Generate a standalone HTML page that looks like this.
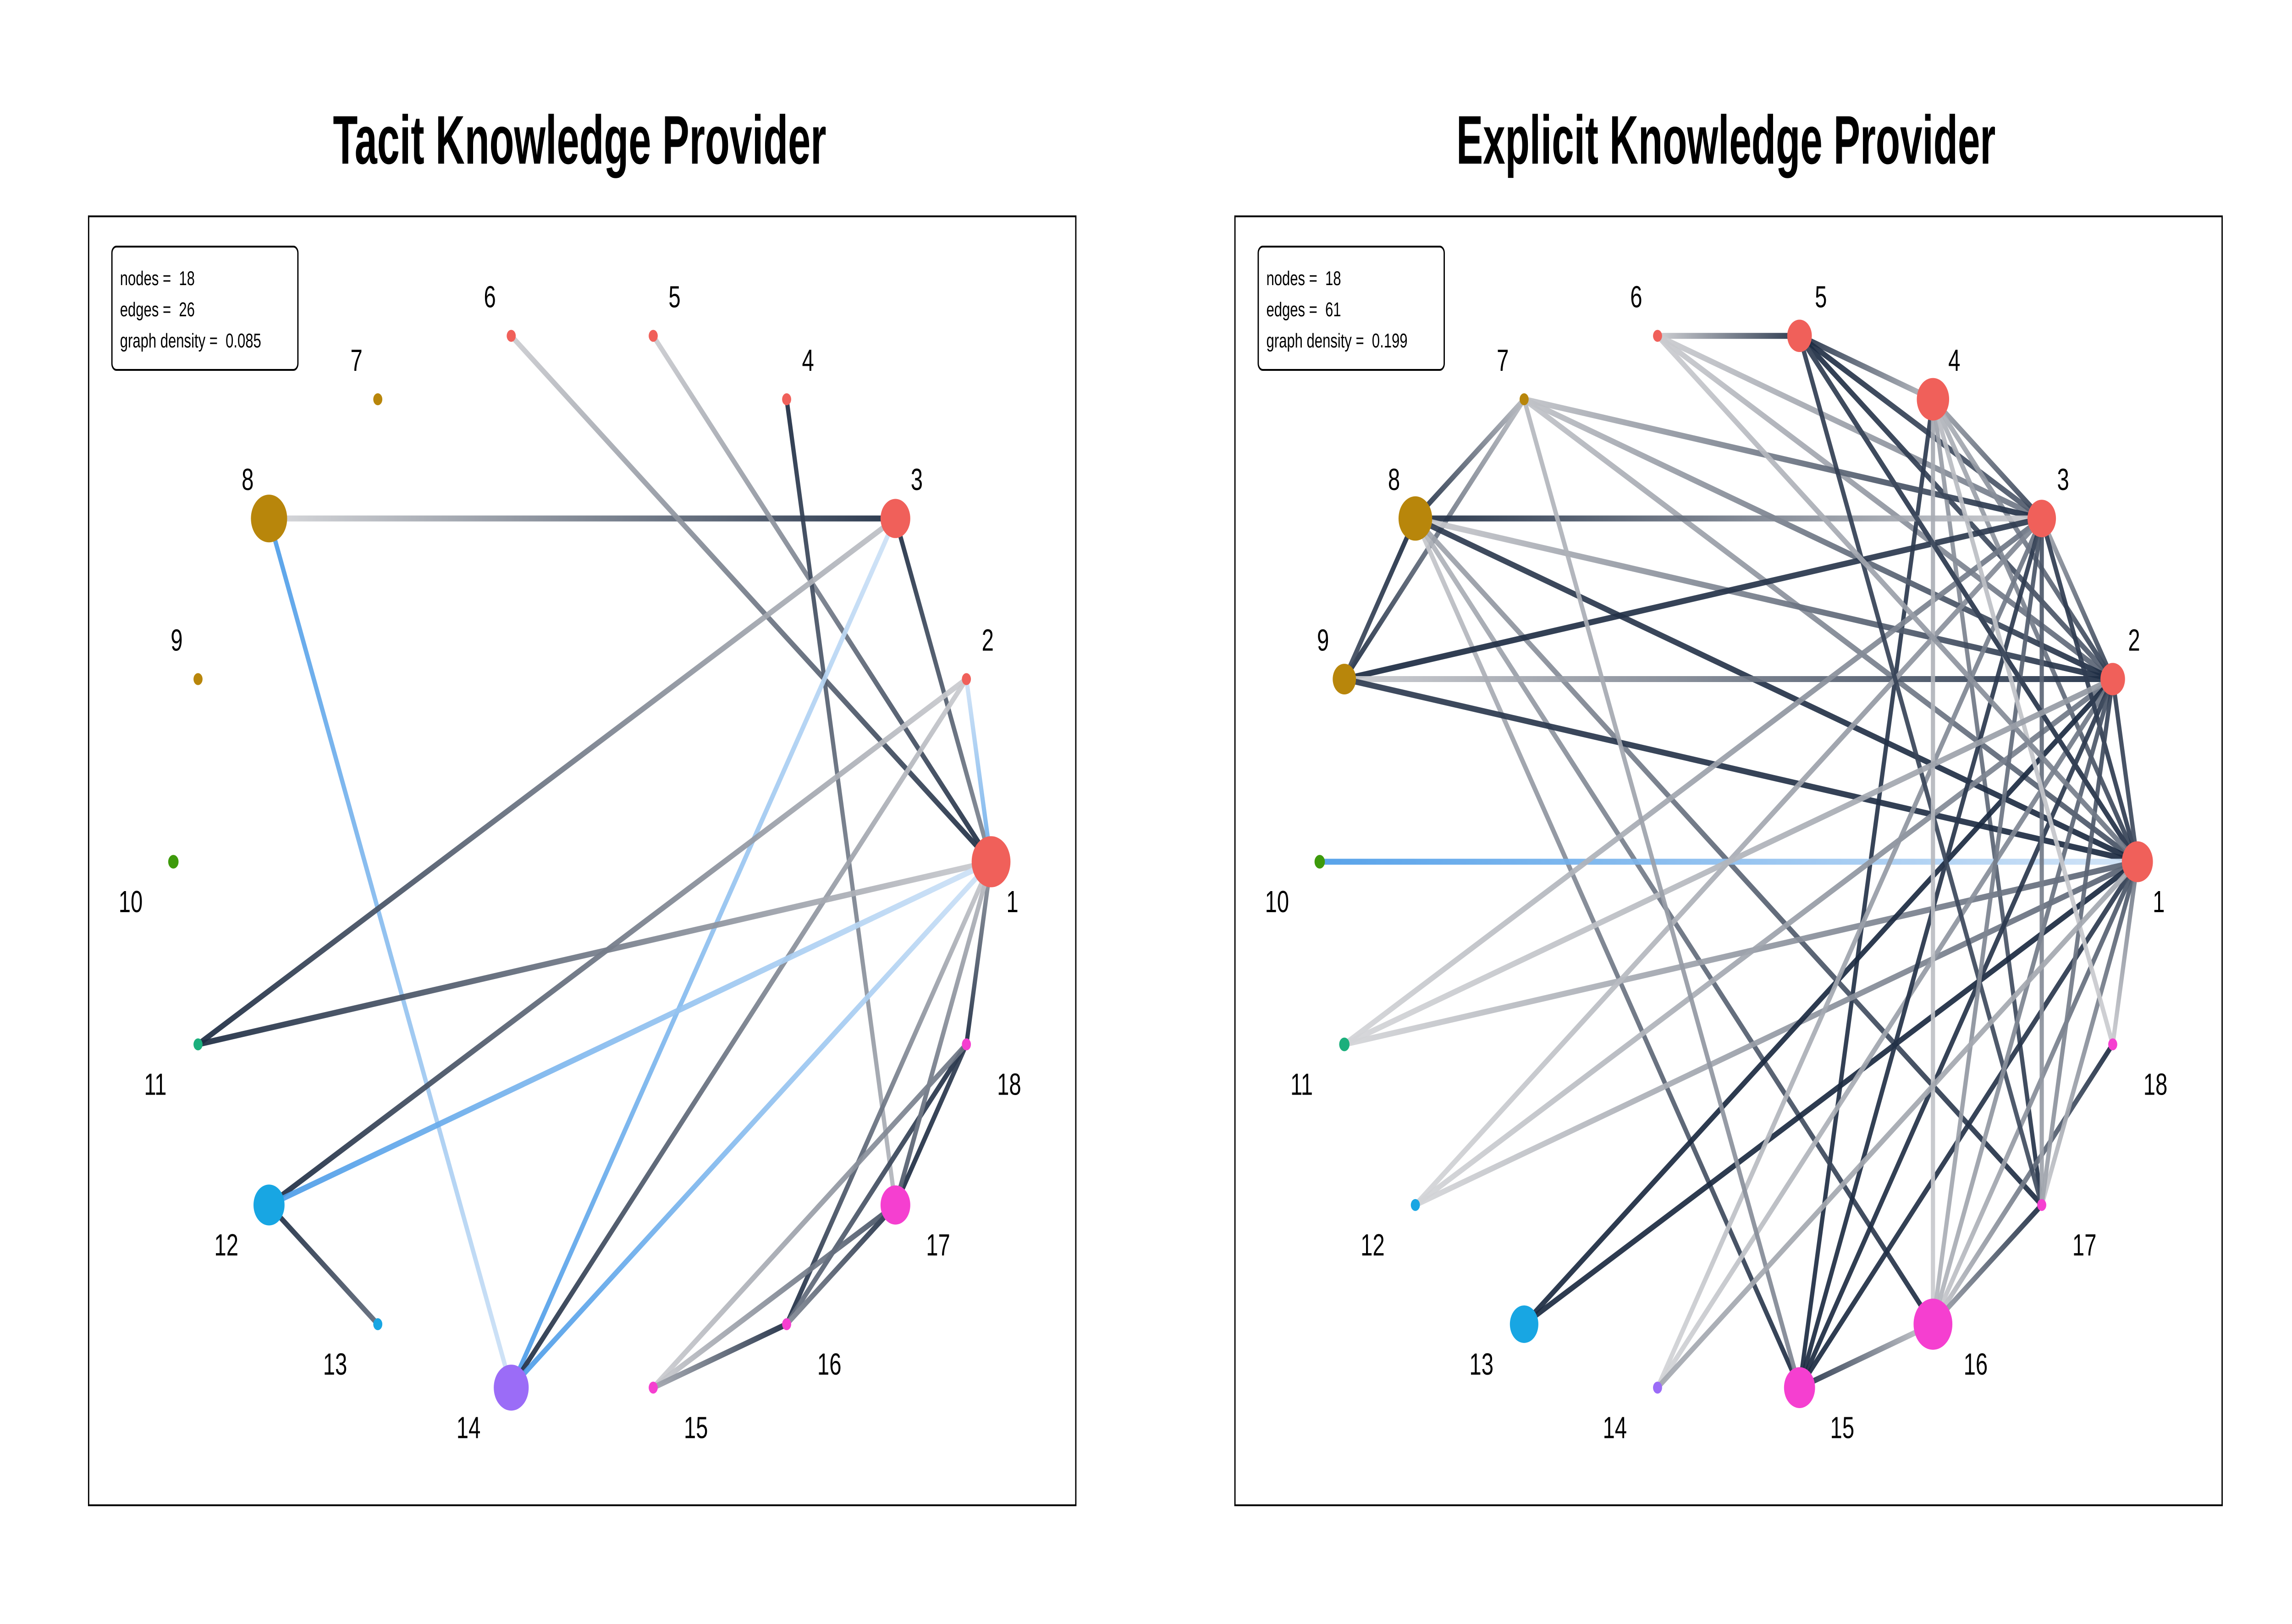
<!DOCTYPE html>
<html><head><meta charset="utf-8"><style>
html,body{margin:0;padding:0;background:#fff;width:100%;height:100%;overflow:hidden;}
svg{display:block;font-family:"Liberation Sans",Arial,sans-serif;width:100vw;height:100vh;}
</style></head><body>
<svg id="chart" viewBox="0 0 7086 3543" preserveAspectRatio="none" xmlns="http://www.w3.org/2000/svg">
<rect x="0" y="0" width="7086" height="3543" fill="#fff"/>
<defs id="defs"></defs>
</svg>
<script>
// ---------- data ----------
const nodeIds = [1,2,3,4,5,6,7,8,9,10,11,12,13,14,15,16,17,18];
const nodeGroups = ['r','r','r','r','r','r','o','o','o','g','t','b','b','p','m','m','m','m'];
const tacitSizes    = [60,14,46,14,14,14,14,56,14,16,14,48,14,54,14,14,46,14];
const explicitSizes = [48,38,44,50,38,14,14,52,36,16,16,14,44,14,48,60,14,14];
const tacitTitle = "Tacit Knowledge Provider";
const explicitTitle = "Explicit Knowledge Provider";
const tacitStats = ["nodes =  18","edges =  26","graph density =  0.085"];
const explicitStats = ["nodes =  18","edges =  61","graph density =  0.199"];

// tacit edges
const tFrom  = [8,8,6,5,4,3,3,3,2,2,2,1,1,1,1,1,1,12,18,18,17,15,15,15,1,16];
const tTo    = [3,14,1,1,17,1,11,14,1,12,14,11,12,14,18,17,16,13,16,17,16,18,17,16,17,17];
const tShadeA= [0.05,1,0.1,0.1,1,1,0.15,0.1,0.1,0.1,0.1,0.1,0.1,0.1,0.4,0.1,0.1,1,1,0.9,1,0.1,0.1,0.3,0.15,0.4];
const tShadeB= [1,0.1,1,1,0.2,0.45,1,1,0.8,1,1,1,1,1,1,0.8,1,0.65,0.6,1,0.7,0.6,0.8,1,0.7,0.9];
const tBlue  = [0,1,0,0,0,0,0,1,1,0,0,0,1,1,0,0,0,0,0,0,0,0,0,0,0,0];

// explicit edges
const eFrom  = [6,6,6,4,3,2,1,4,4,4,4,4,7,7,7,7,7,9,3,8,8,8,8,8,3,9,9,10,11,11,12,12,12,13,13,14,14,15,15,15,16,16,16,16,17,18,3,3,2,5,4,3,2,2,3,4,5,6,11,7,1];
const eTo    = [5,3,2,5,5,5,5,3,2,1,17,15,8,9,3,2,1,8,8,2,1,15,16,17,9,2,1,1,3,1,3,2,1,2,1,3,2,3,2,1,15,1,18,17,1,1,2,1,1,17,16,16,16,17,17,18,1,1,2,15,14];
const eShadeA= [0.1,0.1,0.1,0.2,0.7,0.7,0.7,0.3,0.2,0.2,0.3,0.9,0.2,0.2,0.15,0.15,0.15,0.8,0.1,0.1,0.9,0.1,0.2,0.3,0.9,0.1,0.9,1,0.05,0.05,0.05,0.05,0.05,1,1,0.05,0.05,1,1,1,0.1,0.1,0.1,0.3,0.1,0.1,0.3,0.9,0.9,0.9,0.3,0.8,0.8,0.9,0.8,0.2,0.8,0.1,0.05,0.2,0.3];
const eShadeB= [1,0.6,0.7,1,1,1,1,0.9,0.9,0.9,1,1,1,1,1,1,0.8,1,1,1,1,1,1,1,1,1,1,0.1,0.6,0.7,0.5,0.6,0.7,1,1,0.6,0.6,0.9,0.9,0.9,1,0.8,1,1,0.8,0.6,0.9,0.9,0.8,0.8,0.1,0.2,0.2,0.3,0.3,0.1,0.9,0.6,0.4,0.5,0.3];
const eBlue  = eFrom.map((v,i)=> (v===10 && eTo[i]===1) ? 1 : 0);

// ---------- rendering ----------
const NS = "http://www.w3.org/2000/svg";
const svg = document.getElementById('chart');
const defs = document.getElementById('defs');
const groupColor = {r:'#F0605A',o:'#B8860B',g:'#3D9A0B',t:'#1BAF7C',b:'#18A6E3',p:'#9B6CF7',m:'#F53FD0'};
const DARK=[27,42,65], LIGHT=[222,222,224], BDARK=[74,155,232], BLIGHT=[222,234,248];
function mix(a,b,t){return 'rgb('+a.map((v,i)=>Math.round(v+(b[i]-v)*t)).join(',')+')';}
function mk(tag, attrs){const e=document.createElementNS(NS,tag);for(const k in attrs)e.setAttribute(k,attrs[k]);return e;}
let gid=0;

function panel(offX, title, stats, sizes, from, to, sa, sb, blue, key){
  const cx=1800+offX, cy=1880, rx=1264, ry=1165;
  const pos = k => { const a=(k-1)*20*Math.PI/180; return [cx+rx*Math.cos(a), cy-ry*Math.sin(a)]; };
  const g = mk('g',{});
  
  
  svg.appendChild(g);
  const frame = mk('rect',{x:274+offX,y:472,width:3052,height:2812,fill:'none',stroke:'#000','stroke-width':4});
  
  
  g.appendChild(frame);
  const t = mk('text',{x:1792+offX,y:357,'text-anchor':'middle','font-size':150,'font-weight':'bold',textLength:(key==='tacit'?1525:1667),lengthAdjust:'spacingAndGlyphs'});
  t.textContent = title;
  
  
  g.appendChild(t);
  const eg = mk('g',{});
  
  
  g.appendChild(eg);
  for(let i=0;i<from.length;i++){
    const [x1,y1]=pos(from[i]), [x2,y2]=pos(to[i]);
    const id='gr'+(gid++);
    const lg = mk('linearGradient',{id:id,gradientUnits:'userSpaceOnUse',x1:x1,y1:y1,x2:x2,y2:y2});
    const dk = blue[i]?BDARK:DARK, lt = blue[i]?BLIGHT:LIGHT;
    lg.appendChild(mk('stop',{offset:'0','stop-color':mix(lt,dk,sa[i])}));
    lg.appendChild(mk('stop',{offset:'1','stop-color':mix(lt,dk,sb[i])}));
    defs.appendChild(lg);
    const ln = mk('line',{x1:x1,y1:y1,x2:x2,y2:y2,stroke:'url(#'+id+')','stroke-width':13,'stroke-opacity':0.92});
    
    
    eg.appendChild(ln);
  }
  for(let i=0;i<nodeIds.length;i++){
    const k=nodeIds[i]; const [x,y]=pos(k);
    const c = mk('ellipse',{cx:x,cy:y,rx:sizes[i],ry:sizes[i]*0.93,fill:groupColor[nodeGroups[i]]});
    
    
    g.appendChild(c);
    const a=(k-1)*20*Math.PI/180;
    const sx = Math.cos(a)>=0 ? 1 : -1;
    const sy = Math.sin(a)>1e-9 ? -1 : 1;
    const n = String(k).length;
    const lb = mk('text',{x:x+sx*66*n,y:y+sy*86+24,'text-anchor':'middle','font-size':67});
    lb.textContent = String(k);
    
    
    g.appendChild(lb);
  }
  const sbx = mk('rect',{x:346+offX,y:538,width:575,height:269,rx:14,ry:14,fill:'#fff',stroke:'#000','stroke-width':4});
  
  
  g.appendChild(sbx);
  stats.forEach((s,j)=>{
    const st = mk('text',{x:371+offX,y:622+j*68,'font-size':44});
    st.textContent = s;
    st.style.whiteSpace='pre';
    
    
    g.appendChild(st);
  });
}
panel(0, tacitTitle, tacitStats, tacitSizes, tFrom, tTo, tShadeA, tShadeB, tBlue, 'tacit');
panel(3544, explicitTitle, explicitStats, explicitSizes, eFrom, eTo, eShadeA, eShadeB, eBlue, 'explicit');
</script>
</body></html>
